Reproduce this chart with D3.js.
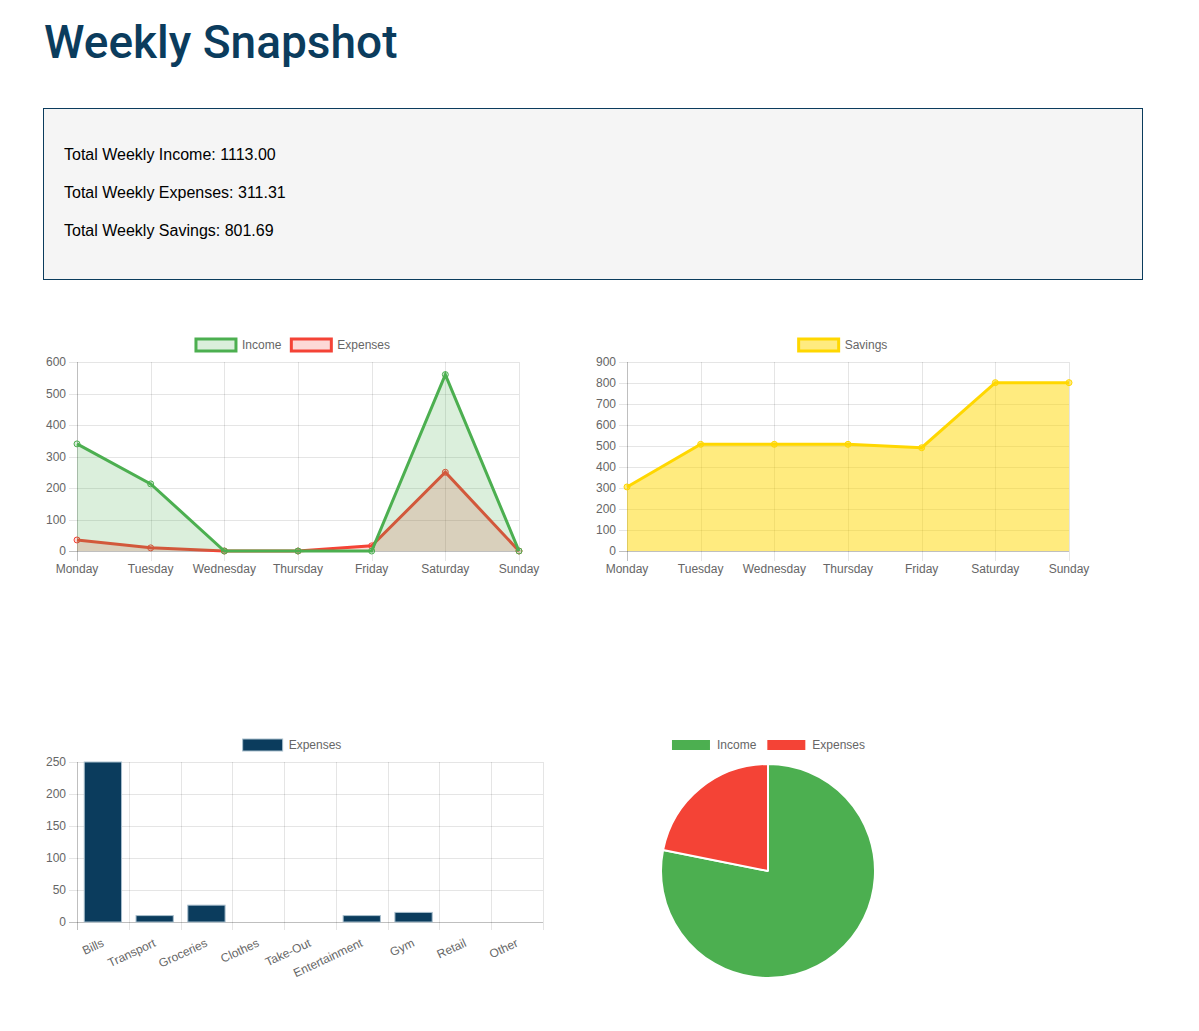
<!DOCTYPE html>
<html>
<head>
<meta charset="utf-8">
<script src="https://cdn.jsdelivr.net/npm/d3@7"></script>
<style>
  html, body { margin: 0; padding: 0; background: #fff; }
  svg { display: block; }
</style>
</head>
<body>
<svg id="page" width="1199" height="1031"></svg>
<script>
// ---------- DATA ----------
const days = ["Monday", "Tuesday", "Wednesday", "Thursday", "Friday", "Saturday", "Sunday"];
const incomeByDay = [340, 213, 0, 0, 0, 560, 0];
const expensesByDay = [35, 10, 0, 0, 16.31, 250, 0];
const savingsByDay = [305, 508, 508, 508, 491.69, 801.69, 801.69];
const incomeTicks = [0, 100, 200, 300, 400, 500, 600];
const savingsTicks = [0, 100, 200, 300, 400, 500, 600, 700, 800, 900];
const expenseCategories = ["Bills", "Transport", "Groceries", "Clothes", "Take-Out", "Entertainment", "Gym", "Retail", "Other"];
const expenseValues = [250, 10, 26.31, 0, 0, 10, 15, 0, 0];
const barTicks = [0, 50, 100, 150, 200, 250];
const pieLabels = ["Income", "Expenses"];
const pieValues = [1113.00, 311.31];
const summaryLines = [
  "Total Weekly Income: 1113.00",
  "Total Weekly Expenses: 311.31",
  "Total Weekly Savings: 801.69"
];

// ---------- STYLE ----------
const NAVY = "#0b3c5d";
const GREEN = "#4CAF50", RED = "#F44336", GOLD = "#FFD700";
const FONT = "'Liberation Sans', Arial, Helvetica, sans-serif";
const TICK = "#666";
const GRID = "rgba(0,0,0,0.1)", ZERO = "rgba(0,0,0,0.25)";

const svg = d3.select("#page");

// Title
svg.append("text").attr("x", 44).attr("y", 58)
  .attr("font-family", "Roboto, sans-serif").attr("font-weight", 500)
  .attr("font-size", 46).attr("fill", NAVY).text("Weekly Snapshot");

// Summary box
svg.append("rect").attr("x", 43.5).attr("y", 108.5).attr("width", 1099).attr("height", 171)
  .attr("fill", "#f5f5f5").attr("stroke", NAVY).attr("stroke-width", 1);
svg.selectAll("text.sum").data(summaryLines).join("text").attr("class", "sum")
  .attr("x", 64).attr("y", (d, i) => 160 + i * 38)
  .attr("font-family", FONT).attr("font-size", 16).attr("fill", "#000").text(d => d);

// ---------- helpers ----------
function legend(g, cx, cy, items) {
  // items: {label, fill, stroke, sw}
  const lg = g.append("g");
  const widths = items.map(it => {
    const t = lg.append("text").attr("font-family", FONT).attr("font-size", 12).text(it.label);
    const w = t.node().getComputedTextLength(); t.remove(); return 40 + 6 + w;
  });
  const total = d3.sum(widths) + 10 * (items.length - 1);
  let x = cx - total / 2;
  items.forEach((it, i) => {
    lg.append("rect").attr("x", x).attr("y", cy - 6).attr("width", 40).attr("height", 12)
      .attr("fill", it.fill).attr("stroke", it.stroke).attr("stroke-width", it.sw);
    lg.append("text").attr("x", x + 46).attr("y", cy).attr("dy", "0.35em")
      .attr("font-family", FONT).attr("font-size", 12).attr("fill", TICK).text(it.label);
    x += widths[i] + 10;
  });
}

function yAxisGrid(g, y, ticks, x0, x1) {
  ticks.forEach(t => {
    g.append("line").attr("x1", x0 - 8).attr("x2", x1)
      .attr("y1", Math.round(y(t)) + 0.5).attr("y2", Math.round(y(t)) + 0.5)
      .attr("stroke", t === 0 ? ZERO : GRID).attr("stroke-width", 1);
    g.append("text").attr("x", x0 - 11).attr("y", y(t)).attr("dy", "0.35em")
      .attr("text-anchor", "end").attr("font-family", FONT).attr("font-size", 12)
      .attr("fill", TICK).text(t);
  });
}

function lineChart(opts) {
  const g = svg.append("g");
  const x = d3.scalePoint().domain(days).range([opts.x0, opts.x1]);
  const y = d3.scaleLinear().domain([0, opts.ticks[opts.ticks.length - 1]]).range([opts.yb, opts.yt]);
  // vertical grid
  days.forEach((d, i) => {
    g.append("line").attr("x1", Math.round(x(d)) + 0.5).attr("x2", Math.round(x(d)) + 0.5)
      .attr("y1", opts.yt).attr("y2", opts.yb + 10)
      .attr("stroke", i === 0 ? ZERO : GRID);
    g.append("text").attr("x", x(d)).attr("y", opts.yb + 22)
      .attr("text-anchor", "middle").attr("font-family", FONT).attr("font-size", 12)
      .attr("fill", TICK).text(d);
  });
  yAxisGrid(g, y, opts.ticks, opts.x0, opts.x1);
  // datasets drawn in reverse order (last first)
  opts.series.slice().reverse().forEach(s => {
    const area = d3.area().x((d, i) => x(days[i])).y0(y(0)).y1(d => y(d));
    const line = d3.line().x((d, i) => x(days[i])).y(d => y(d));
    g.append("path").attr("d", area(s.values)).attr("fill", s.fill);
    g.append("path").attr("d", line(s.values)).attr("fill", "none")
      .attr("stroke", s.color).attr("stroke-width", 3).attr("stroke-linejoin", "miter");
    s.values.forEach((v, i) => {
      g.append("circle").attr("cx", x(days[i])).attr("cy", y(v)).attr("r", 3)
        .attr("fill", s.fill).attr("stroke", s.color).attr("stroke-width", 1);
    });
  });
  legend(g, opts.legendX, 345, opts.series.map(s => ({ label: s.label, fill: s.fill, stroke: s.color, sw: 3 })));
}

lineChart({
  x0: 77, x1: 519, yb: 551, yt: 362, ticks: incomeTicks, legendX: 293,
  series: [
    { label: "Income", values: incomeByDay, color: GREEN, fill: "rgba(76,175,80,0.2)" },
    { label: "Expenses", values: expensesByDay, color: RED, fill: "rgba(244,67,54,0.2)" }
  ]
});

lineChart({
  x0: 627, x1: 1069, yb: 551, yt: 362, ticks: savingsTicks, legendX: 843,
  series: [
    { label: "Savings", values: savingsByDay, color: GOLD, fill: "rgba(255,215,0,0.5)" }
  ]
});

// ---------- Bar chart ----------
(function () {
  const g = svg.append("g");
  const x0 = 77, x1 = 543, yb = 922, yt = 762;
  const x = d3.scaleBand().domain(expenseCategories).range([x0, x1]);
  const y = d3.scaleLinear().domain([0, 250]).range([yb, yt]);
  const bw = x.bandwidth();
  // vertical grid at boundaries
  d3.range(expenseCategories.length + 1).forEach(i => {
    const xx = Math.round(x0 + i * bw) + 0.5;
    g.append("line").attr("x1", xx).attr("x2", xx).attr("y1", yt).attr("y2", yb + 8)
      .attr("stroke", i === 0 ? ZERO : GRID);
  });
  yAxisGrid(g, y, barTicks, x0, x1);
  const barW = bw * 0.8 * 0.9;
  expenseCategories.forEach((c, i) => {
    const v = expenseValues[i];
    if (v > 0) {
      g.append("rect").attr("x", x(c) + bw / 2 - barW / 2).attr("y", y(v))
        .attr("width", barW).attr("height", y(0) - y(v))
        .attr("fill", NAVY).attr("stroke", "#a9bfcd").attr("stroke-width", 1);
    }
    const cxp = x(c) + bw / 2;
    g.append("text").attr("transform", `translate(${cxp},${yb + 20}) rotate(-25)`)
      .attr("text-anchor", "end").attr("dy", "0.35em")
      .attr("font-family", FONT).attr("font-size", 12).attr("fill", TICK).text(c);
  });
  legend(g, 292, 745, [{ label: "Expenses", fill: NAVY, stroke: "#a9bfcd", sw: 1 }]);
})();

// ---------- Pie chart ----------
(function () {
  const g = svg.append("g").attr("transform", "translate(768,871)");
  const pie = d3.pie().sort(null).value(d => d)(pieValues);
  const arc = d3.arc().innerRadius(0).outerRadius(107);
  const colors = [GREEN, RED];
  g.selectAll("path").data(pie).join("path").attr("d", arc)
    .attr("fill", (d, i) => colors[i]).attr("stroke", "#fff").attr("stroke-width", 2)
    .attr("stroke-linejoin", "bevel");
  legend(svg.append("g"), 768, 745, pieLabels.map((l, i) => ({ label: l, fill: colors[i], stroke: "#fff", sw: 2 })));
})();
</script>
</body>
</html>
